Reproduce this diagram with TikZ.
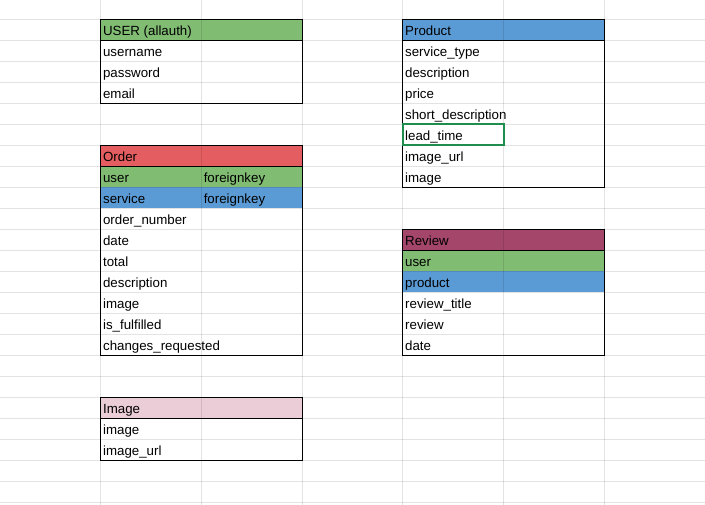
\documentclass[tikz,border=0pt]{standalone}
\usepackage{fontspec}
\setmainfont{Liberation Sans}
\definecolor{fkgreen}{HTML}{81BC73}
\definecolor{fkblue}{HTML}{5B9BD5}
\definecolor{ordred}{HTML}{E45E61}
\definecolor{revmag}{HTML}{A4466A}
\definecolor{imgpink}{HTML}{EBCDD7}
\definecolor{selgreen}{HTML}{1E8E4E}
\begin{document}
\begin{tikzpicture}[x=1pt,y=-1pt,
  cell/.style={anchor=base west, inner sep=0pt, font=\fontsize{13.3}{16}\selectfont},
  frame/.style={draw=black, line width=1.1pt},
  gridline/.style={draw=black, draw opacity=0.11, line width=1pt}]
\useasboundingbox (0,0) rectangle (705,505);
\fill[white] (0,0) rectangle (705,505);

% cell fills
\fill[fkgreen] (100.7,19.3) rectangle (302.1,40.3);
\fill[fkblue]  (402.8,19.3) rectangle (604.2,40.3);
\fill[ordred]  (100.7,145.3) rectangle (302.1,166.3);
\fill[fkgreen] (100.7,166.3) rectangle (302.1,187.3);
\fill[fkblue]  (100.7,187.3) rectangle (302.1,208.3);
\fill[revmag]  (402.8,229.3) rectangle (604.2,250.3);
\fill[fkgreen] (402.8,250.3) rectangle (604.2,271.3);
\fill[fkblue]  (402.8,271.3) rectangle (604.2,292.3);
\fill[imgpink] (100.7,397.3) rectangle (302.1,418.3);

% sheet grid
\foreach \i in {1,...,6} \draw[gridline] (100.7*\i,0) -- (100.7*\i,505);
\foreach \j in {0,...,23} \draw[gridline] (0,19.3+21*\j) -- (705,19.3+21*\j);

% USER table
\node[cell] (usr-h) at (102.9,35.4) {USER (allauth)};
\foreach \t [count=\k] in {username,password,email}
  \node[cell] (usr-\k) at (102.9,35.4+21*\k) {\t};
\draw[frame] (100.7,19.3) rectangle (302.1,103.3);
\draw[frame] (100.7,40.3) -- (302.1,40.3);

% Product table
\node[cell] (prd-h) at (405.0,35.4) {Product};
\foreach \t [count=\k] in {service\_type,description,price,short\_description,lead\_time,image\_url,image}
  \node[cell] (prd-\k) at (405.0,35.4+21*\k) {\t};
\draw[frame] (402.8,19.3) rectangle (604.2,187.3);
\draw[frame] (402.8,40.3) -- (604.2,40.3);
\draw[selgreen, line width=2pt] (402.8,124.3) rectangle (503.5,145.3);

% Order table
\node[cell] (ord-h) at (102.9,161.4) {Order};
\foreach \t [count=\k] in {user,service,order\_number,date,total,description,image,is\_fulfilled,changes\_requested}
  \node[cell] (ord-\k) at (102.9,161.4+21*\k) {\t};
\node[cell] (ord-fk1) at (203.6,182.4) {foreignkey};
\node[cell] (ord-fk2) at (203.6,203.4) {foreignkey};
\draw[frame] (100.7,145.3) rectangle (302.1,355.3);
\draw[frame] (100.7,166.3) -- (302.1,166.3);

% Review table
\node[cell] (rev-h) at (405.0,245.4) {Review};
\foreach \t [count=\k] in {user,product,review\_title,review,date}
  \node[cell] (rev-\k) at (405.0,245.4+21*\k) {\t};
\draw[frame] (402.8,229.3) rectangle (604.2,355.3);
\draw[frame] (402.8,250.3) -- (604.2,250.3);

% Image table
\node[cell] (img-h) at (102.9,413.4) {Image};
\foreach \t [count=\k] in {image,image\_url}
  \node[cell] (img-\k) at (102.9,413.4+21*\k) {\t};
\draw[frame] (100.7,397.3) rectangle (302.1,460.3);
\draw[frame] (100.7,418.3) -- (302.1,418.3);
\end{tikzpicture}
\end{document}
